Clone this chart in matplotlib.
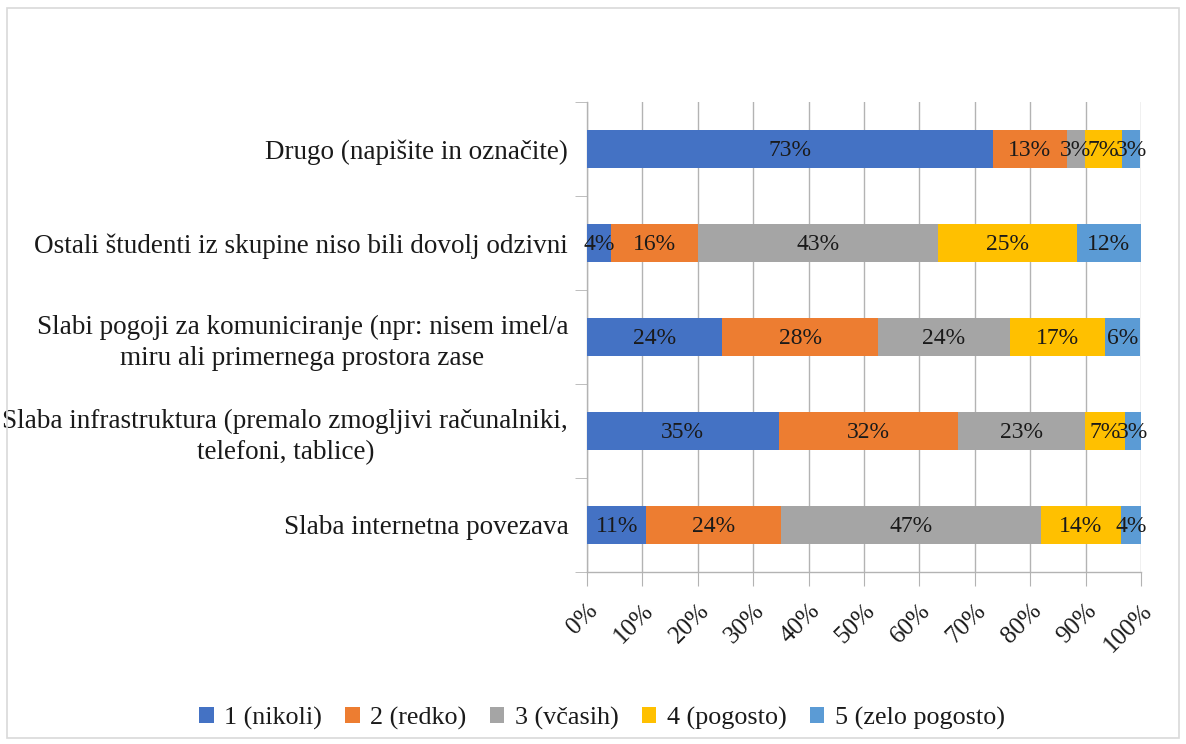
import matplotlib
matplotlib.use("Agg")
import matplotlib.pyplot as plt
from matplotlib.patches import Rectangle
import numpy as np

plt.rcParams['font.family'] = ['Liberation Serif', 'DejaVu Serif']

categories = [
    "Slaba internetna povezava",
    "Slaba infrastruktura (premalo zmogljivi računalniki,\ntelefoni, tablice)",
    "Slabi pogoji za komuniciranje (npr: nisem imel/a\nmiru ali primernega prostora zase",
    "Ostali študenti iz skupine niso bili dovolj odzivni",
    "Drugo (napišite in označite)",
]
series_names = ["1 (nikoli)", "2 (redko)", "3 (včasih)", "4 (pogosto)", "5 (zelo pogosto)"]
s1 = [10.7, 34.6, 24.4, 4.4, 73.3]
s2 = [24.4, 32.4, 28.1, 15.6, 13.3]
s3 = [46.8, 22.9, 23.9, 43.3, 3.3]
s4 = [14.4, 7.2, 17.1, 25.1, 6.7]
s5 = [3.7, 2.9, 6.4, 11.6, 3.3]
series = [s1, s2, s3, s4, s5]
colors = ["#4472C4", "#ED7D31", "#A5A5A5", "#FFC000", "#5B9BD5"]
xticks = [0, 10, 20, 30, 40, 50, 60, 70, 80, 90, 100]
xticklabels = [f"{t}%" for t in xticks]

W, H = 1186, 744
fig = plt.figure(figsize=(W / 100, H / 100), dpi=100)
fig.patches.append(Rectangle((7 / W, 6 / H), 1 - 14 / W, 1 - 14 / H, transform=fig.transFigure,
                             fill=False, edgecolor="#d9d9d9", linewidth=1.2))
ax = fig.add_axes([587 / W, 1 - 572 / H, (1141 - 587) / W, (572 - 102) / H])

grid_c = "#b3b3b3"
txt_c = "#1a1a1a"
fs_lab = 19.5
fs_data = 17
fs_tick = 18
fs_leg = 18.8
y = np.arange(len(categories))
left = np.zeros(len(categories))
handles = []
for vals, col, name in zip(series, colors, series_names):
    vals = np.array(vals)
    b = ax.barh(y, vals, left=left, height=0.4, color=col, label=name, zorder=3)
    handles.append(b)
    for yi, (l, v) in enumerate(zip(left, vals)):
        ax.text(l + v / 2, yi - 0.02, f"{round(v)}%", ha="center", va="center",
                fontsize=fs_data, color=txt_c, zorder=4)
    left = left + vals

ax.set_xlim(0, 100)
ax.set_ylim(-0.5, len(categories) - 0.5)
ax.set_xticks(xticks)
ax.set_xticklabels(xticklabels, rotation=45, ha="right", va="top", rotation_mode="anchor",
                   fontsize=fs_tick, color=txt_c)
ax.tick_params(axis="x", length=10, color=grid_c, pad=10)
ax.set_yticks(y)
ax.set_yticklabels(categories, fontsize=fs_lab, color=txt_c, multialignment="center",
                   linespacing=1.3)
ax.tick_params(axis="y", length=0, pad=13.5)
ax.set_yticks(np.arange(-0.5, len(categories)), minor=True)
ax.tick_params(axis="y", which="minor", length=9, color=grid_c)
ax.xaxis.grid(True, color=grid_c, linewidth=1.0, zorder=0)
for s in ["top", "right"]:
    ax.spines[s].set_visible(False)
for s in ["left", "bottom"]:
    ax.spines[s].set_color(grid_c)
    ax.spines[s].set_linewidth(1.0)
ax.set_axisbelow(True)

leg = fig.legend(handles=handles, labels=series_names, loc="center",
                 bbox_to_anchor=(602 / W, 1 - 718 / H),
                 ncol=5, frameon=False, fontsize=fs_leg, handlelength=0.55, handleheight=0.55,
                 handletextpad=0.4, columnspacing=0.9)
for t in leg.get_texts():
    t.set_color(txt_c)

fig.savefig("out.png", dpi=100)
